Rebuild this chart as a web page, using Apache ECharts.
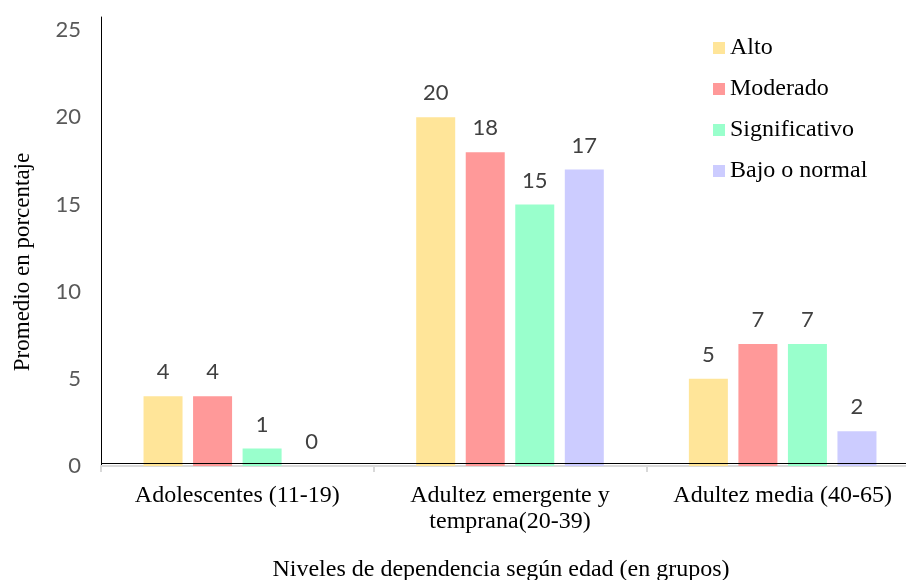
<!DOCTYPE html>
<html>
<head>
<meta charset="utf-8">
<script src="https://cdn.jsdelivr.net/npm/echarts@6/dist/echarts.min.js"></script>
<style>
  html, body { margin: 0; padding: 0; background: #fff; }
  #chart { width: 906px; height: 580px; }
</style>
</head>
<body>
<div id="chart"></div>
<script>
var categories = ['Adolescentes (11-19)', 'Adultez emergente y\ntemprana(20-39)', 'Adultez media (40-65)'];
var seriesNames = ['Alto', 'Moderado', 'Significativo', 'Bajo o normal'];
var alto = [4, 20, 5];
var moderado = [4, 18, 7];
var significativo = [1, 15, 7];
var bajo = [0, 17, 2];
var colors = ['#FFE599', '#FF9999', '#99FFCC', '#CCCCFF'];

var serif = '"Liberation Serif", "Times New Roman", serif';
var sans = 'Lato, "Open Sans", sans-serif';

var chart = echarts.init(document.getElementById('chart'));

function makeSeries(name, data, color) {
    return {
        name: name,
        type: 'bar',
        data: data,
        barWidth: 39,
        barGap: '27%',
        itemStyle: { color: color },
        label: {
            show: true,
            position: 'top',
            distance: 13,
            color: '#404040',
            fontFamily: sans,
            fontSize: 22
        }
    };
}

var allData = [alto, moderado, significativo, bajo];
var series = [];
for (var i = 0; i < seriesNames.length; i++) {
    series.push(makeSeries(seriesNames[i], allData[i], colors[i]));
}
// black base line drawn just above the gray category axis
series[0].markLine = {
    silent: true,
    symbol: 'none',
    label: { show: false },
    lineStyle: { color: '#000', width: 1, type: 'solid' },
    data: [{ yAxis: 0.17 }]
};

option = {
    animation: false,
    textStyle: { fontFamily: serif },
    grid: { left: 101, right: -13, top: 17, bottom: 114, containLabel: false, outerBoundsMode: 'none' },
    legend: {
        orient: 'vertical',
        left: 708,
        top: 31,
        itemWidth: 12,
        itemHeight: 12,
        itemGap: 17,
        icon: 'rect',
        textStyle: { fontFamily: serif, fontSize: 24, color: '#000' },
        data: seriesNames
    },
    xAxis: {
        type: 'category',
        data: categories,
        name: 'Niveles de dependencia según edad (en grupos)',
        nameLocation: 'middle',
        nameGap: 92,
        nameTextStyle: { fontFamily: serif, fontSize: 24, color: '#000', padding: [0, 18, 0, 0] },
        axisLine: { lineStyle: { color: '#d9d9d9', width: 2 } },
        axisTick: { show: true, length: 6, lineStyle: { color: '#d9d9d9', width: 2 } },
        axisLabel: {
            interval: 0,
            hideOverlap: false,
            fontFamily: serif,
            fontSize: 24,
            color: '#000',
            margin: 17,
            lineHeight: 26
        }
    },
    yAxis: {
        type: 'value',
        min: 0,
        max: 25.75,
        interval: 5,
        name: 'Promedio en porcentaje',
        nameLocation: 'middle',
        nameRotate: 90,
        nameGap: 67,
        nameTextStyle: { fontFamily: serif, fontSize: 23, color: '#000', padding: [0, 41, 0, 0] },
        axisLine: { show: true, lineStyle: { color: '#000', width: 1 } },
        axisTick: { show: false },
        splitLine: { show: false },
        axisLabel: {
            fontFamily: sans,
            fontSize: 22,
            color: '#595959',
            margin: 20,
            showMaxLabel: false,
            formatter: function (v) { return v % 5 === 0 ? v : ''; }
        }
    },
    series: series
};
chart.setOption(option);
</script>
</body>
</html>
